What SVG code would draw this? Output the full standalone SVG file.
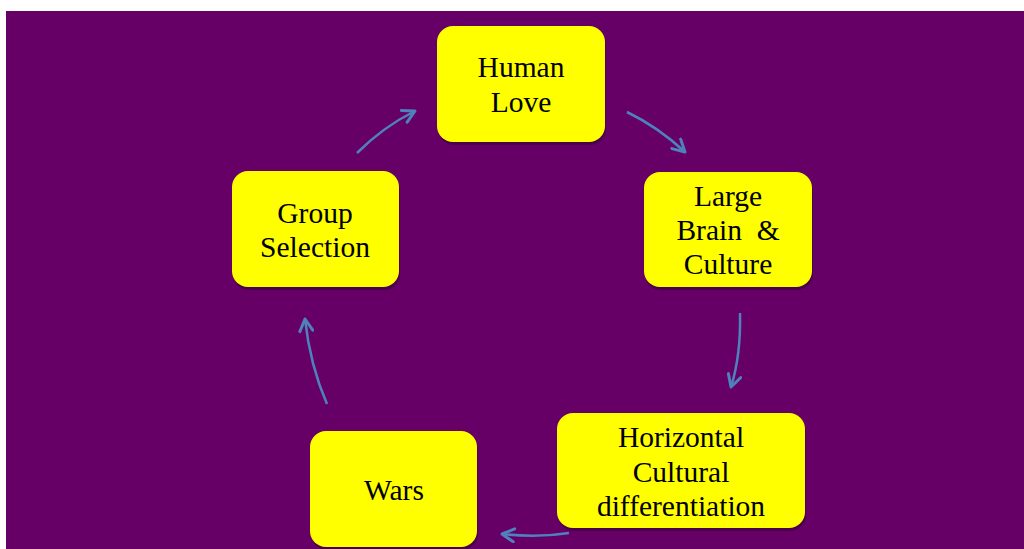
<svg xmlns="http://www.w3.org/2000/svg" width="1024" height="549" viewBox="0 0 1024 549">
<defs>
<style>
.box{fill:#ffff00;}
.shadow{fill:#2a0030;opacity:0.45;}
.lbl{font-family:"Liberation Serif","Times New Roman",serif;font-size:29.5px;fill:#000;text-anchor:middle;}
.conn{fill:none;stroke:#4f81bd;stroke-width:2.5;marker-end:url(#arr);}
</style>
<marker id="arr" viewBox="0 0 16 16" refX="14" refY="8" markerWidth="16" markerHeight="16" markerUnits="userSpaceOnUse" orient="auto">
<path d="M2,1.5 L14,8 L2,14.5" fill="none" stroke="#4f81bd" stroke-width="3" stroke-linecap="round" stroke-linejoin="round"/>
</marker>
</defs>
<rect x="0" y="0" width="1024" height="549" fill="#ffffff"/>
<rect x="6" y="11" width="1018" height="538" fill="#660066"/>
<g id="connectors">
<path class="conn" d="M627,112 Q658,127 685,152"/>
<path class="conn" d="M740,313 Q741,355 731,387"/>
<path class="conn" d="M569,533 Q537,538 502,534"/>
<path class="conn" d="M327,404 Q310,365 305,319"/>
<path class="conn" d="M357,153 Q383,127 415,111"/>
</g>
<g id="human-love">
<rect class="shadow" x="438" y="29" width="168" height="116" rx="16"/>
<rect class="box" x="437" y="26" width="168" height="116" rx="16"/>
<text class="lbl" x="521" y="77">Human</text>
<text class="lbl" x="521" y="112">Love</text>
</g>
<g id="large-brain">
<rect class="shadow" x="645" y="175" width="168" height="115" rx="16"/>
<rect class="box" x="644" y="172" width="168" height="115" rx="16"/>
<text class="lbl" x="728" y="206">Large</text>
<text class="lbl" x="728" y="240" xml:space="preserve">Brain  &amp;</text>
<text class="lbl" x="728" y="274">Culture</text>
</g>
<g id="horizontal">
<rect class="shadow" x="558" y="416" width="248" height="115" rx="16"/>
<rect class="box" x="557" y="413" width="248" height="115" rx="16"/>
<text class="lbl" x="681" y="447">Horizontal</text>
<text class="lbl" x="681" y="482">Cultural</text>
<text class="lbl" x="681" y="516">differentiation</text>
</g>
<g id="wars">
<rect class="shadow" x="311" y="434" width="167" height="116" rx="16"/>
<rect class="box" x="310" y="431" width="167" height="116" rx="16"/>
<text class="lbl" x="394" y="500">Wars</text>
</g>
<g id="group-selection">
<rect class="shadow" x="233" y="174" width="167" height="116" rx="16"/>
<rect class="box" x="232" y="171" width="167" height="116" rx="16"/>
<text class="lbl" x="315" y="223">Group</text>
<text class="lbl" x="315" y="257">Selection</text>
</g>
</svg>
